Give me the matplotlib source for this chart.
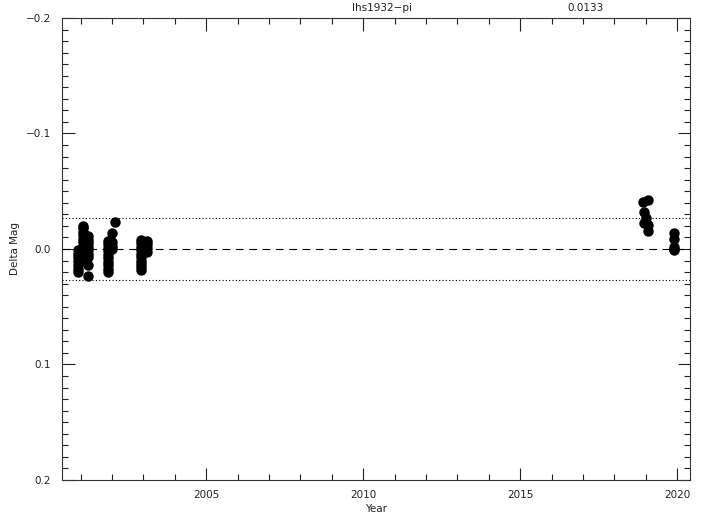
import numpy as np
import matplotlib
matplotlib.use("Agg")
import matplotlib.pyplot as plt
from matplotlib.ticker import MultipleLocator

# star name and its rms scatter (printed on top)
star = 'lhs1932\u2212pi'
sigma = 0.0133

# photometry epochs (decimal year) and delta mag
year_a = [2000.92]*7 + [2001.08]*11 + [2001.24]*9
dmag_a = [0.001, 0.004, 0.007, 0.010, 0.014, 0.017, 0.020,
          -0.020, -0.018, -0.015, -0.012, -0.009, -0.006, -0.003, 0.000, 0.003, 0.006, 0.009,
          -0.011, -0.008, -0.005, -0.002, 0.001, 0.004, 0.007, 0.014, 0.023]

year_b = [2001.87]*10 + [2002.00]*4 + [2002.10]
dmag_b = [-0.007, -0.004, -0.001, 0.002, 0.005, 0.008, 0.011, 0.014, 0.017, 0.020,
          -0.014, -0.006, -0.003, 0.000,
          -0.023]

year_c = [2002.93]*10 + [2003.12]*4
dmag_c = [-0.008, -0.005, -0.002, 0.001, 0.004, 0.007, 0.010, 0.013, 0.016, 0.018,
          -0.007, -0.004, -0.001, 0.003]

year_d = [2018.91, 2019.07, 2018.95, 2019.0, 2018.93, 2019.08, 2019.07]
dmag_d = [-0.041, -0.042, -0.032, -0.027, -0.0225, -0.021, -0.0156]

year_e = [2019.9]*5
dmag_e = [-0.014, -0.009, -0.002, 0.0, 0.001]

years = year_a + year_b + year_c + year_d + year_e
dmag = dmag_a + dmag_b + dmag_c + dmag_d + dmag_e

fig = plt.figure(figsize=(7.08, 5.23), dpi=100)
ax = fig.add_axes([62/708, 1-480/523, 628/708, 462/523])

ax.plot(years, dmag, 'o', color='k', ms=6.5, mec='k')
ax.axhline(0, color='k', ls=(0, (7, 5)), lw=0.8)
ax.axhline(2*sigma, color='k', ls=(0, (1, 2)), lw=0.8)
ax.axhline(-2*sigma, color='k', ls=(0, (1, 2)), lw=0.8)

ax.set_xlim(2000.41, 2020.41)
ax.set_ylim(0.2, -0.2)

def yfmt(v, p):
    if abs(v) < 1e-9:
        return '0.0'
    return ('%.1f' % v).replace('-', '\u2212')

ax.xaxis.set_major_locator(MultipleLocator(5))
ax.xaxis.set_minor_locator(MultipleLocator(1))
ax.yaxis.set_major_locator(MultipleLocator(0.1))
ax.yaxis.set_minor_locator(MultipleLocator(0.01))
ax.yaxis.set_major_formatter(plt.FuncFormatter(yfmt))
ax.tick_params(which='both', direction='in', top=True, right=True, labelsize=7.5,
               colors='#222222', width=0.8)
ax.tick_params(which='major', length=9)
ax.tick_params(which='minor', length=4.5)
ax.tick_params(axis='x', pad=7)
ax.tick_params(axis='y', pad=8)
for s in ax.spines.values():
    s.set_linewidth(0.8)
    s.set_color('#333333')

ax.set_xlabel('Year', fontsize=7.5, color='#222222', labelpad=3)
ax.set_ylabel('Delta Mag', fontsize=7.5, color='#222222')
ax.yaxis.set_label_coords(-(62-20)/628, 0.5)

fig.text(382/708, 1-8/523, star, ha='center', va='center', fontsize=7.5, color='#222222')
fig.text(585/708, 1-8/523, '%.4f' % sigma, ha='center', va='center', fontsize=7.5, color='#222222')

fig.savefig('out.png', dpi=100)
